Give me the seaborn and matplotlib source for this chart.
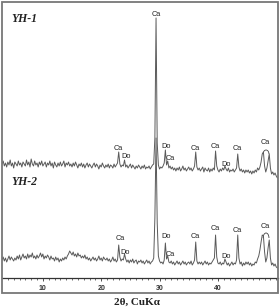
import numpy as np
import pandas as pd
import matplotlib
matplotlib.use("Agg")
import matplotlib.pyplot as plt
from matplotlib.patches import Rectangle, Arc
import seaborn as sns

# 2-theta grid (degrees), 0.2 deg step
two_theta = np.round(np.arange(3.0, 50.21, 0.2), 1)

# Intensity (arbitrary units)
yh1 = [
    114, 117, 112, 115, 111, 116, 113, 118, 112, 115,   # 3.0 - 4.8
    110, 116, 114, 112, 117, 113, 115, 111, 116, 114,   # 5.0 - 6.8
    112, 118, 113, 116, 111, 119, 114, 112, 117, 113,   # 7.0 - 8.8
    115, 111, 116, 113, 117, 112, 114, 116, 111, 115,   # 9.0 - 10.8
    113, 117, 112, 115, 110, 116, 113, 111, 115, 112,   # 11.0 - 12.8
    116, 112, 114, 117, 111, 115, 113, 116, 112, 114,   # 13.0 - 14.8
    111, 115, 112, 116, 113, 110, 114, 112, 115, 111,   # 15.0 - 16.8
    114, 110, 113, 115, 111, 114, 112, 110, 113, 115,   # 17.0 - 18.8
    111, 114, 112, 109, 113, 111, 115, 112, 110, 113,   # 19.0 - 20.8
    111, 114, 110, 113, 112, 110, 114, 111, 113, 115,   # 21.0 - 22.8
    126, 114, 111, 113, 112, 118, 111, 113, 110, 112,   # 23.0 - 24.8
    114, 110, 113, 111, 109, 112, 110, 113, 111, 109,   # 25.0 - 26.8
    112, 110, 113, 109, 111, 110, 112, 109, 111, 113,   # 27.0 - 28.8
    114, 140, 260, 135, 113, 109, 111, 110, 112, 115,   # 29.0 - 30.8
    128, 113, 117, 110, 112, 109, 111, 108, 110, 107,   # 31.0 - 32.8
    110, 108, 111, 107, 109, 112, 108, 110, 107, 109,   # 33.0 - 34.8
    111, 108, 110, 107, 109, 112, 126, 111, 108, 110,   # 35.0 - 36.8
    107, 109, 111, 106, 110, 108, 107, 110, 106, 109,   # 37.0 - 38.8
    107, 110, 108, 127, 112, 108, 106, 109, 107, 110,   # 39.0 - 40.8
    108, 112, 109, 107, 110, 106, 108, 107, 109, 106,   # 41.0 - 42.8
    108, 110, 124, 111, 107, 109, 106, 108, 105, 108,   # 43.0 - 44.8
    106, 108, 105, 107, 104, 107, 105, 108, 106, 110,   # 45.0 - 46.8
    108, 111, 116, 124, 126, 112, 106, 110, 117, 124,   # 47.0 - 48.8
    110, 104, 106, 103, 105, 102, 100,                  # 49.0 - 50.2
]

yh2 = [
    18, 21, 17, 20, 16, 19, 22, 18, 21, 19,   # 3.0 - 4.8
    17, 20, 18, 22, 19, 23, 18, 21, 24, 20,   # 5.0 - 6.8
    22, 19, 24, 20, 23, 21, 25, 20, 22, 19,   # 7.0 - 8.8
    23, 20, 22, 25, 21, 24, 19, 22, 20, 23,   # 9.0 - 10.8
    21, 18, 22, 19, 20, 17, 21, 18, 20, 16,   # 11.0 - 12.8
    19, 17, 20, 18, 21, 19, 22, 24, 27, 25,   # 13.0 - 14.8
    23, 26, 22, 24, 21, 25, 22, 23, 20, 22,   # 15.0 - 16.8
    20, 23, 19, 21, 18, 20, 17, 19, 21, 18,   # 17.0 - 18.8
    20, 17, 19, 22, 18, 20, 17, 21, 19, 18,   # 19.0 - 20.8
    20, 17, 19, 16, 18, 21, 17, 19, 16, 18,   # 21.0 - 22.8
    33, 21, 17, 19, 18, 24, 19, 16, 18, 15,   # 23.0 - 24.8
    18, 16, 19, 15, 17, 18, 14, 17, 16, 18,   # 25.0 - 26.8
    15, 17, 14, 16, 18, 15, 17, 14, 16, 17,   # 27.0 - 28.8
    20, 60, 140, 55, 22, 17, 15, 16, 14, 18,  # 29.0 - 30.8
    35, 19, 22, 16, 15, 17, 14, 16, 13, 15,   # 31.0 - 32.8
    17, 14, 16, 13, 15, 17, 14, 16, 13, 15,   # 33.0 - 34.8
    16, 14, 17, 13, 15, 18, 36, 17, 14, 16,   # 35.0 - 36.8
    14, 16, 13, 15, 17, 14, 16, 13, 15, 14,   # 37.0 - 38.8
    16, 18, 20, 43, 21, 15, 14, 16, 13, 15,   # 39.0 - 40.8
    14, 19, 16, 13, 15, 12, 14, 16, 13, 15,   # 41.0 - 42.8
    14, 18, 43, 20, 14, 16, 12, 15, 13, 16,   # 43.0 - 44.8
    14, 16, 13, 15, 12, 14, 13, 16, 15, 19,   # 45.0 - 46.8
    22, 28, 36, 43, 42, 26, 16, 20, 30, 38,   # 47.0 - 48.8
    20, 13, 15, 12, 14, 11, 10,               # 49.0 - 50.2
]

sample_names = ["YH-1", "YH-2"]
sample_label_y = [259, 96]

# Phase labels: (text, 2theta, intensity)
phase_text_1 = ["Ca", "Do", "Ca", "Do", "Ca", "Ca", "Ca", "Do", "Ca", "Ca"]
phase_x_1 = [23.0, 24.2, 29.5, 31.1, 31.9, 36.2, 39.6, 41.4, 43.3, 48.2]
phase_y_1 = [130, 121, 263, 132, 120, 130, 132, 113, 129, 135]

phase_text_2 = ["Ca", "Do", "Do", "Ca", "Ca", "Ca", "Do", "Ca", "Ca"]
phase_x_2 = [23.2, 24.1, 31.1, 31.9, 36.2, 39.6, 41.4, 43.3, 48.2]
phase_y_2 = [39, 25, 41, 24, 41, 49, 21, 48, 52]

tick_values = [10, 20, 30, 40]
x_label = "2θ, CuKα"

df = pd.DataFrame({
    "two_theta": np.concatenate([two_theta, two_theta]),
    "intensity": np.concatenate([yh1, yh2]),
    "sample": ["YH-1"] * len(two_theta) + ["YH-2"] * len(two_theta),
})

sns.set_theme(style="white")
plt.rcParams["font.family"] = ["Liberation Sans", "DejaVu Sans"]

fig = plt.figure(figsize=(2.8, 3.08), dpi=100)
W, H = 280, 308
ax = fig.add_axes([2 / W, (H - 278) / H, 276 / W, 276 / H])

sns.lineplot(data=df, x="two_theta", y="intensity", hue="sample",
             palette=["#5a5a5a", "#5a5a5a"], linewidth=0.7, legend=False,
             estimator=None, sort=True, ax=ax)

ax.set_xlim(3.0, 50.3)
ax.set_ylim(0, 276)
ax.set_yticks([])
ax.set_ylabel("")
ax.set_xlabel("")
for s in ["left", "right", "top"]:
    ax.spines[s].set_visible(False)
ax.spines["bottom"].set_color("#333333")
ax.spines["bottom"].set_linewidth(0.9)

ax.set_xticks(tick_values)
ax.set_xticklabels([str(t) for t in tick_values], fontsize=5, fontweight="bold",
                   color="#333333")
ax.set_xticks(np.arange(4, 51, 1), minor=True)
ax.tick_params(axis="x", which="major", direction="out", length=2.5, width=0.6,
               color="#333333", pad=2.5, bottom=True)
ax.tick_params(axis="x", which="minor", direction="out", length=1.6, width=0.5,
               color="#333333", bottom=True)

# Phase labels
for t, x, y in zip(phase_text_1, phase_x_1, phase_y_1):
    ax.text(x, y, t, fontsize=5.3, ha="center", va="center", color="#222222")
for t, x, y in zip(phase_text_2, phase_x_2, phase_y_2):
    ax.text(x, y, t, fontsize=5.3, ha="center", va="center", color="#222222")

# small brackets over the doublet
ax.add_patch(Arc((48.25, 124), 1.0, 8, theta1=0, theta2=180,
                 color="#444444", lw=0.6))
ax.add_patch(Arc((48.25, 40), 1.0, 10, theta1=0, theta2=180,
                 color="#444444", lw=0.6))

# Sample names
for name, y in zip(sample_names, sample_label_y):
    ax.text(4.6, y, name, fontsize=8.5, fontweight="bold", style="italic",
            family=["Liberation Serif", "DejaVu Serif"], ha="left", va="center",
            color="#222222")

# Outer frame
fig.patches.append(Rectangle((2 / W, (H - 293) / H), 276 / W, 291 / H,
                             transform=fig.transFigure, fill=False,
                             edgecolor="#777777", lw=1.3))

fig.text(137 / W, (H - 302) / H, x_label, fontsize=8, fontweight="bold",
         family=["Liberation Serif", "DejaVu Serif"], ha="center", va="center",
         color="#222222")

fig.savefig("out.png", dpi=100)
